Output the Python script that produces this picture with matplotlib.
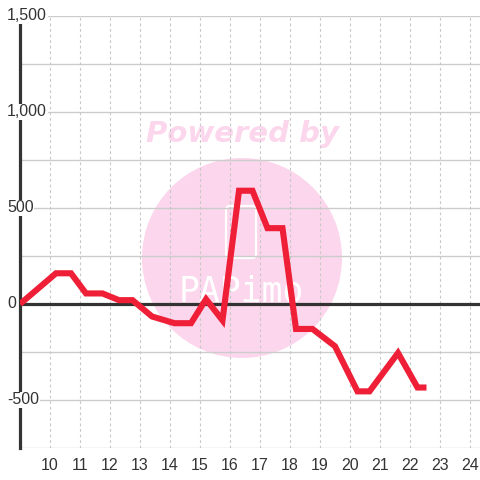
import matplotlib
matplotlib.use("Agg")
import matplotlib.pyplot as plt
from matplotlib.patches import Circle, FancyBboxPatch
from matplotlib.transforms import blended_transform_factory

plt.rcParams['font.family'] = ['Liberation Sans', 'DejaVu Sans']

# data
hours = [9.0, 10.2, 10.7, 11.2, 11.75, 12.3, 12.75, 13.4, 14.15, 14.7, 15.2, 15.75,
         16.3, 16.75, 17.25, 17.75, 18.2, 18.75, 19.5, 20.25, 20.65, 21.6, 22.25, 22.55]
values = [0, 160, 160, 55, 55, 20, 20, -65, -100, -100, 25, -85,
          590, 590, 395, 395, -130, -130, -220, -455, -455, -255, -435, -435]
xticks = list(range(10, 25))
yticks = [-500, 0, 500, 1000, 1500]
ytick_labels = ["-500", "0", "500", "1,000", "1,500"]

W = 480
fig = plt.figure(figsize=(4.8, 4.8), dpi=100)
ax = fig.add_axes([20 / W, 32 / W, 460 / W, 432 / W])
ax.set_xlim(9, 9 + 460 / 30)
ax.set_ylim(-750, 1500)

# horizontal grid every 250, dotted vertical grid every hour
for v in range(-750, 1501, 250):
    ax.axhline(v, color='#cccccc', lw=1, zorder=0.5)
for h in xticks:
    ax.axvline(h, color='#c8c8c8', lw=0.8, ls=(0, (2.5, 2.5)), zorder=0.5)

# zero line
ax.axhline(0, color='#333333', lw=2.3, zorder=2)

# watermark
circ = Circle((242 / W, 1 - 258 / W), 100 / W, transform=fig.transFigure,
              facecolor='#fcd6ec', edgecolor='none', zorder=0.1)
ax.add_patch(circ)
ax.text(242 / W, 1 - 134 / W, "Powered by", transform=fig.transFigure,
        ha='center', va='center', fontsize=21, fontweight='heavy', style='italic',
        family='DejaVu Sans', color='#fcd6ec', zorder=0.2)
phone = FancyBboxPatch((226 / W, 1 - 258 / W), 30 / W, 52 / W,
                       boxstyle="round,pad=0,rounding_size=0.008",
                       transform=fig.transFigure, facecolor='none',
                       edgecolor='white', lw=1.6, zorder=0.3)
ax.add_patch(phone)
ax.text(241 / W, 1 - 291 / W, "PAPimo", transform=fig.transFigure,
        ha='center', va='center', fontsize=25, family='DejaVu Sans Mono',
        color='white', zorder=0.3)

ax.plot(hours, values, color='#ee1f36', lw=4.4, solid_joinstyle='miter',
        solid_capstyle='butt', zorder=3)

# axes styling
for s in ['top', 'right', 'bottom']:
    ax.spines[s].set_visible(False)
ax.spines['left'].set_color('#333333')
ax.spines['left'].set_linewidth(2.3)
ax.spines['left'].set_zorder(2)

ax.set_xticks(xticks)
ax.set_xticklabels([str(h) for h in xticks], fontsize=11.5, color='#333333')
ax.tick_params(axis='x', length=0, pad=7)
ax.set_yticks([])

trans = blended_transform_factory(ax.transAxes, ax.transData)
for v, lab in zip(yticks, ytick_labels):
    ax.text(-13 / 460, v, lab, transform=trans, ha='left', va='center',
            fontsize=11.5, color='#333333', clip_on=False, zorder=5,
            bbox=dict(facecolor='white', edgecolor='none', pad=0.5))

fig.savefig("out.png", dpi=100)
